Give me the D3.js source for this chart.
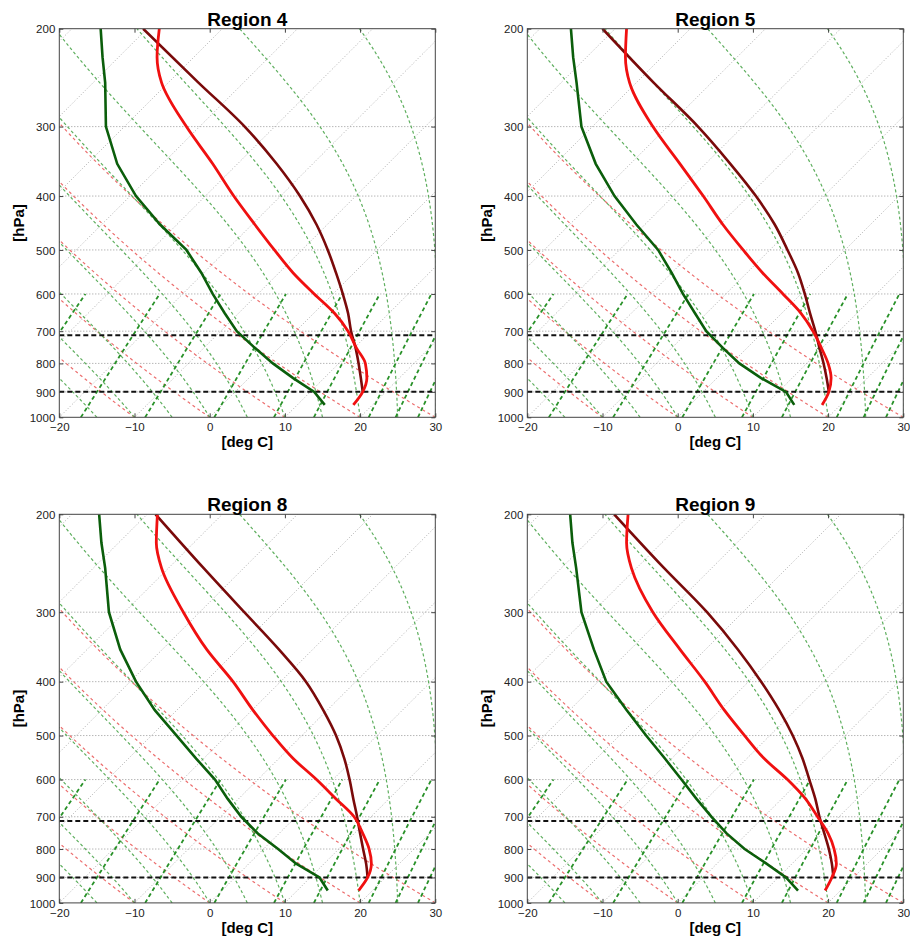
<!DOCTYPE html>
<html>
<head>
<meta charset="utf-8">
<script src="https://cdn.jsdelivr.net/npm/d3@7"></script>
<style>
  body { margin: 0; background: #fff; }
  svg text { font-family: Helvetica, Arial, "Liberation Sans", sans-serif; }
</style>
</head>
<body>
<svg id="chart" width="910" height="940"></svg>
<script>
// panel titles
const regions = ["Region 4", "Region 5", "Region 8", "Region 9"];

// pressure levels (hPa) where the sounding curves were read
const pLevels = [950, 900, 850, 800, 750, 700, 650, 600, 550, 500, 450, 400, 350, 300, 250, 225, 200];
const parcelLevels = [900, 850, 800, 750, 700, 650, 600, 550, 500, 450, 400, 350, 300, 250, 200];

// values read on the skewed x axis [deg C]
const tempR4 = [19.1, 20.35, 20.9, 20.7, 19.5, 18.4, 16.6, 13.9, 11.1, 8.6, 6.0, 3.2, 0.4, -3.1, -6.4, -7.0, -6.7];
const dewR4 = [15.3, 13.9, 11.1, 8.4, 6.0, 3.6, 2.0, 0.4, -1.1, -3.1, -6.6, -9.8, -12.3, -13.8, -13.9, -14.25, -14.5];
const parcelR4 = [20.35, 20.1, 19.8, 19.4, 18.8, 18.4, 17.7, 16.8, 15.7, 14.2, 12.0, 8.9, 4.65, -1.5, -8.85];

const tempR5 = [19.2, 20.1, 20.4, 20.0, 19.1, 18.0, 16.4, 14.0, 11.3, 8.7, 6.0, 3.4, 0.3, -3.3, -6.4, -6.95, -6.8];
const dewR5 = [15.5, 14.4, 11.1, 8.2, 6.0, 3.8, 2.3, 0.7, -0.8, -2.6, -5.5, -8.4, -10.9, -12.8, -13.45, -13.9, -14.2];
const parcelR5 = [20.1, 19.8, 19.4, 18.85, 18.3, 17.6, 16.9, 16.0, 14.6, 12.9, 10.4, 7.0, 2.7, -3.2, -10.0];

const tempR8 = [19.8, 21.0, 21.5, 21.2, 20.35, 19.2, 16.8, 14.2, 11.1, 8.4, 5.75, 3.1, -0.4, -3.5, -6.4, -7.1, -6.95];
const dewR8 = [15.7, 14.6, 11.5, 9.1, 6.4, 4.2, 2.4, 0.7, -1.8, -4.4, -7.3, -9.8, -11.9, -13.4, -13.9, -14.4, -14.7];
const parcelR8 = [21.0, 20.8, 20.4, 20.0, 19.6, 19.1, 18.6, 17.9, 16.8, 15.1, 12.8, 9.2, 4.6, -0.8, -7.2];

const tempR9 = [19.6, 20.5, 21.1, 20.8, 20.0, 18.6, 17.0, 14.6, 11.5, 8.9, 6.2, 3.6, 0.3, -3.3, -6.15, -6.8, -6.6];
const dewR9 = [16.0, 14.4, 11.8, 8.9, 6.5, 4.5, 2.5, 0.5, -1.7, -4.2, -6.8, -9.5, -11.15, -12.8, -13.5, -14.0, -14.3];
const parcelR9 = [20.7, 20.5, 20.1, 19.5, 18.85, 18.3, 17.5, 16.6, 15.3, 13.5, 11.1, 8.0, 3.9, -1.8, -8.45];

// axis ticks
const xTicks = [-20, -10, 0, 10, 20, 30];
const pTicks = [200, 300, 400, 500, 600, 700, 800, 900, 1000];
const pGrid = [300, 400, 500, 600, 700, 800, 900];

// background line families
const isotherms = d3.range(-110, 40, 10);            // deg C
const dryAdiabats = [-10, 0, 10, 20, 30];            // theta at 1000 hPa, deg C
const moistAdiabats = [-20, -15, -10, -5, 0, 5, 10, 15, 20, 25, 30]; // theta-w, deg C
const mixingRatios = [0.4, 1, 2, 4, 7, 10, 16, 20, 24]; // g/kg
const markLevels = [712, 900];                       // black dashed levels

const allTemp = [tempR4, tempR5, tempR8, tempR9];
const allDew = [dewR4, dewR5, dewR8, dewR9];
const allParcel = [parcelR4, parcelR5, parcelR8, parcelR9];

const panels = [
    { left: 59.3, top: 28.7 },
    { left: 527.3, top: 28.7 },
    { left: 59.3, top: 514.3 },
    { left: 527.3, top: 514.3 }
];
const W = 376, H = 388.6;

const svg = d3.select("#chart");

// saturation vapour pressure (hPa), T in deg C
function esat(tc) {
    return 6.112 * Math.exp(17.67 * tc / (tc + 243.5));
}

// pseudo-adiabatic lapse rate dT/dp (K/hPa)
function moistLapse(T, p) {
    const Rd = 287.04, Cp = 1005.7, Lv = 2.501e6, eps = 0.622;
    const es = esat(T - 273.15);
    const rs = eps * es / (p - es);
    return (1 / p) * (Rd * T + Lv * rs) / (Cp + Lv * Lv * rs * eps / (Rd * T * T));
}

function moistLine(tw) {
    let T = tw + 273.15, p = 1000;
    const pts = [[p, T - 273.15]];
    const dp = -5;
    while (p > 200) {
        const k1 = moistLapse(T, p);
        const k2 = moistLapse(T + k1 * dp / 2, p + dp / 2);
        const k3 = moistLapse(T + k2 * dp / 2, p + dp / 2);
        const k4 = moistLapse(T + k3 * dp, p + dp);
        T += dp * (k1 + 2 * k2 + 2 * k3 + k4) / 6;
        p += dp;
        pts.push([p, T - 273.15]);
    }
    return pts;
}

function dewFromMix(w, p) {
    const e = w * p / (622 + w);
    const l = Math.log(e / 6.112);
    return 243.5 * l / (17.67 - l);
}

panels.forEach((pan, i) => {
    const g = svg.append("g").attr("transform", `translate(${pan.left},${pan.top})`);

    const x = d3.scaleLinear().domain([-20, 30]).range([0, W]);
    const y = d3.scaleLog().domain([200, 1000]).range([0, H]);
    // skewed position of a real temperature: isotherms at 45 degrees
    const sx = (t, p) => x(t) + (H - y(p));

    const clipId = "clip" + i;
    g.append("clipPath").attr("id", clipId)
        .append("rect").attr("width", W).attr("height", H);
    const bg = g.append("g").attr("clip-path", `url(#${clipId})`);

    // horizontal grid
    bg.selectAll(".hgrid").data(pGrid).enter().append("line")
        .attr("x1", 0).attr("x2", W)
        .attr("y1", d => y(d)).attr("y2", d => y(d))
        .attr("stroke", "#8c8c8c").attr("stroke-width", 0.9)
        .attr("stroke-dasharray", "1,2");

    // isotherms
    bg.selectAll(".iso").data(isotherms).enter().append("line")
        .attr("x1", d => sx(d, 1000)).attr("y1", y(1000))
        .attr("x2", d => sx(d, 200)).attr("y2", y(200))
        .attr("stroke", "#999").attr("stroke-width", 0.8)
        .attr("stroke-dasharray", "1,2");

    const line = d3.line().x(d => sx(d[1], d[0])).y(d => y(d[0]));
    const pRange = d3.range(1000, 195, -10);

    // dry adiabats
    bg.selectAll(".dry").data(dryAdiabats).enter().append("path")
        .attr("d", th => line(pRange.map(p => [p, (th + 273.15) * Math.pow(p / 1000, 0.2857) - 273.15])))
        .attr("fill", "none")
        .attr("stroke", "rgb(236,110,110)").attr("stroke-width", 1.2)
        .attr("stroke-dasharray", "3,3");

    // moist adiabats
    bg.selectAll(".moist").data(moistAdiabats).enter().append("path")
        .attr("d", tw => line(moistLine(tw)))
        .attr("fill", "none")
        .attr("stroke", "rgb(95,175,95)").attr("stroke-width", 1.2)
        .attr("stroke-dasharray", "3,2.5");

    // mixing ratio lines
    const pMix = d3.range(1000, 595, -10);
    bg.selectAll(".mix").data(mixingRatios).enter().append("path")
        .attr("d", w => line(pMix.map(p => [p, dewFromMix(w, p)])))
        .attr("fill", "none")
        .attr("stroke", "rgb(40,145,40)").attr("stroke-width", 1.8)
        .attr("stroke-dasharray", "4,3");

    // black dashed levels
    bg.selectAll(".mark").data(markLevels).enter().append("line")
        .attr("x1", 0).attr("x2", W)
        .attr("y1", d => y(d)).attr("y2", d => y(d))
        .attr("stroke", "#111").attr("stroke-width", 2)
        .attr("stroke-dasharray", "5,3");

    // sounding curves (values already on skewed axis)
    const curve = d3.line().x(d => x(d[1])).y(d => y(d[0]));
    const dew = pLevels.map((p, k) => [p, allDew[i][k]]);
    const temp = pLevels.map((p, k) => [p, allTemp[i][k]]);
    const parcel = parcelLevels.map((p, k) => [p, allParcel[i][k]]);

    bg.append("path").attr("d", curve.curve(d3.curveLinear)(dew))
        .attr("fill", "none").attr("stroke", "#0b5e0b").attr("stroke-width", 2.6);
    bg.append("path").attr("d", curve.curve(d3.curveMonotoneY)(parcel))
        .attr("fill", "none").attr("stroke", "#7a0a0a").attr("stroke-width", 2.6);
    bg.append("path").attr("d", curve.curve(d3.curveMonotoneY)(temp))
        .attr("fill", "none").attr("stroke", "#f01010").attr("stroke-width", 2.8);

    // frame
    g.append("rect").attr("width", W).attr("height", H)
        .attr("fill", "none").attr("stroke", "#444").attr("stroke-width", 1);

    // axes with inward ticks
    const xAxis = d3.axisBottom(x).tickValues(xTicks).tickSizeInner(-4).tickSizeOuter(0).tickPadding(6);
    const yAxis = d3.axisLeft(y).tickValues(pTicks).tickFormat(d3.format("d")).tickSizeInner(-4).tickSizeOuter(0).tickPadding(4);

    const gx = g.append("g").attr("transform", `translate(0,${H})`).call(xAxis);
    const gy = g.append("g").call(yAxis);
    g.append("g").call(d3.axisTop(x).tickValues(xTicks).tickSizeInner(-4).tickSizeOuter(0).tickFormat(""));
    g.append("g").attr("transform", `translate(${W},0)`)
        .call(d3.axisRight(y).tickValues(pTicks).tickSizeInner(-4).tickSizeOuter(0).tickFormat(""));

    g.selectAll(".domain").remove();
    g.selectAll(".tick line").attr("stroke", "#444");
    [gx, gy].forEach(a => a.selectAll("text")
        .attr("font-size", "11.5px").attr("fill", "#222")
        .attr("font-family", "Helvetica, Arial, 'Liberation Sans', sans-serif"));
    gy.selectAll("text").attr("dy", "0.36em");

    // title and axis labels
    g.append("text").attr("x", W / 2).attr("y", -3)
        .attr("text-anchor", "middle").attr("font-size", "19px").attr("font-weight", "bold")
        .text(regions[i]);
    g.append("text").attr("x", W / 2).attr("y", H + 30)
        .attr("text-anchor", "middle").attr("font-size", "15px").attr("font-weight", "bold")
        .text("[deg C]");
    g.append("text")
        .attr("transform", `translate(${-35},${H / 2}) rotate(-90)`)
        .attr("text-anchor", "middle").attr("font-size", "15px").attr("font-weight", "bold")
        .text("[hPa]");
});
</script>
</body>
</html>
